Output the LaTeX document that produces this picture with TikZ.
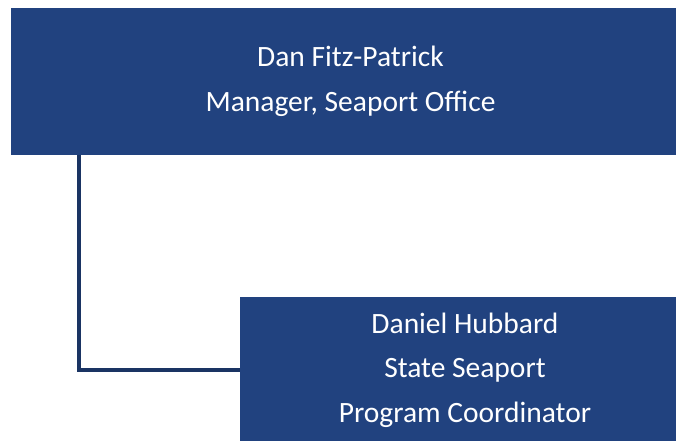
\documentclass[tikz,border=0pt]{standalone}
\usepackage{fontspec}
\setmainfont{Carlito}
\usepackage{tikz}
\definecolor{boxblue}{HTML}{21427F}
\definecolor{linkblue}{HTML}{1A3463}

\begin{document}
\begin{tikzpicture}[x=1pt,y=-1pt]
            \tikzstyle{edge}=[draw=linkblue,line width=4.5pt,-]
            \tikzstyle{box}=[rectangle,fill=boxblue,text=white,align=center,inner sep=0pt,font=\fontsize{29.5}{44.5}\selectfont]

            \useasboundingbox (0,0) rectangle (676,440);

            \node[box,minimum width=679pt,minimum height=147pt] (mgr) at (350.5,81.5)
                {Dan Fitz-Patrick\\Manager, Seaport Office};
            \node[box,minimum width=450pt,minimum height=146pt] (coord) at (465,370)
                {Daniel Hubbard\\State Seaport\\Program Coordinator};

            \path[edge] ([xshift=68pt]mgr.south west) |- (coord.west);
        \end{tikzpicture}
\end{document}
